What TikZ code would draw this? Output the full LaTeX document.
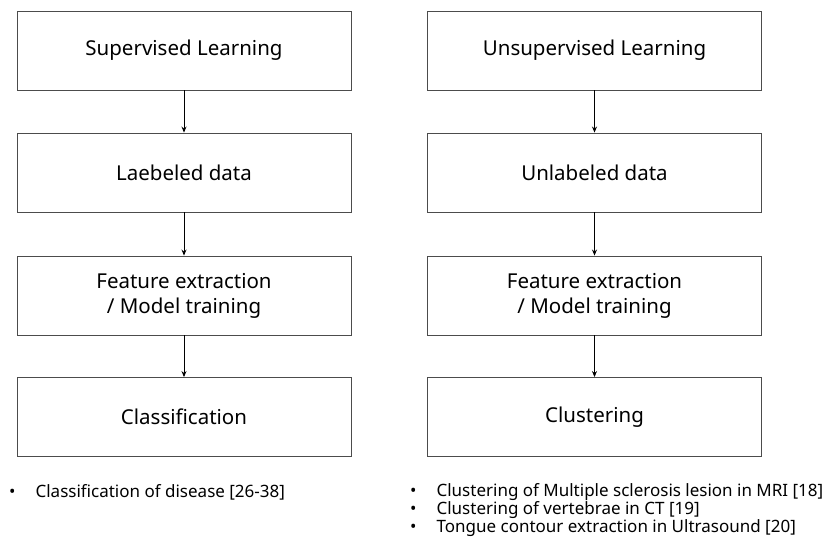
\documentclass[tikz,border=0pt]{standalone}
\usepackage{fontspec}
\setmainfont{Noto Sans}
\tikzset{
  stagebox/.style={draw=black!70, line width=0.9pt, minimum width=334pt,
    minimum height=79pt, inner sep=0pt, align=center, font=\fontsize{20.5}{25}\selectfont},
  flow/.style={-{Stealth[length=6pt,width=5pt]}, line width=0.8pt},
  reflist/.style={anchor=north west, inner sep=0pt, align=left,
    font=\fontsize{17}{18}\selectfont}
}
\usetikzlibrary{arrows.meta}
\begin{document}
\begin{tikzpicture}[x=1pt, y=-1pt]
  \useasboundingbox (0,0) rectangle (827,543);
  % supervised branch
  \node[stagebox] (sup) at (184,50.5) {Supervised Learning};
  \node[stagebox] (labdata) at (184,172.5) {Laebeled data};
  \node[stagebox] (supfeat) at (184,295.5) {Feature extraction\\/ Model training};
  \node[stagebox] (classif) at (184,417) {Classification};
  \draw[flow] (sup) -- (labdata);
  \draw[flow] (labdata) -- (supfeat);
  \draw[flow] (supfeat) -- (classif);
  % unsupervised branch
  \node[stagebox] (unsup) at (594.5,50.5) {Unsupervised Learning};
  \node[stagebox] (unlabdata) at (594.5,172.5) {Unlabeled data};
  \node[stagebox] (unsupfeat) at (594.5,295.5) {Feature extraction\\/ Model training};
  \node[stagebox] (cluster) at (594.5,417) {Clustering};
  \draw[flow] (unsup) -- (unlabdata);
  \draw[flow] (unlabdata) -- (unsupfeat);
  \draw[flow] (unsupfeat) -- (cluster);
  % references
  \node[reflist] (suprefs) at (9,484) {%
    \begin{tabular}{@{}l@{\hspace{20pt}}l@{}}
      \textbullet & Classification of disease [26-38]
    \end{tabular}};
  \node[reflist] (unsuprefs) at (410,483) {%
    \begin{tabular}{@{}l@{\hspace{20pt}}l@{}}
      \textbullet & Clustering of Multiple sclerosis lesion in MRI [18]\\
      \textbullet & Clustering of vertebrae in CT [19]\\
      \textbullet & Tongue contour extraction in Ultrasound [20]
    \end{tabular}};
\end{tikzpicture}
\end{document}
